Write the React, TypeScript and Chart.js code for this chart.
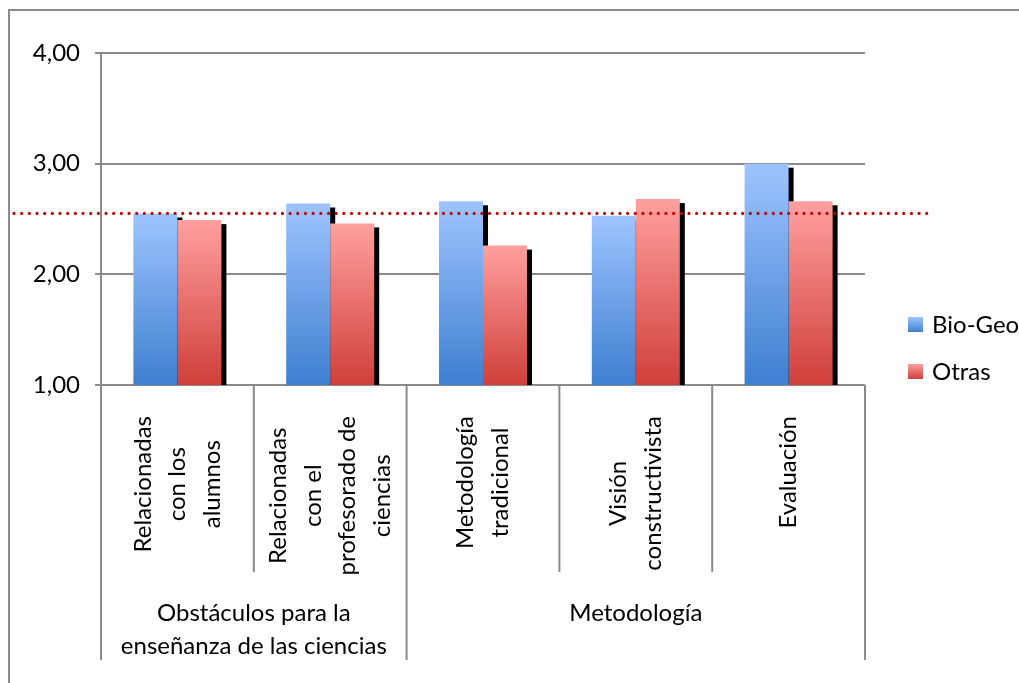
import React, { useEffect, useRef } from "react";
import { Chart, registerables } from "chart.js";

Chart.register(...registerables);

const categoryLines: string[][] = [
  ["Relacionadas", "con los", "alumnos"],
  ["Relacionadas", "con el", "profesorado de", "ciencias"],
  ["Metodología", "tradicional"],
  ["Visión", "constructivista"],
  ["Evaluación"],
];
const groupLines: string[][] = [
  ["Obstáculos para la", "enseñanza de las ciencias"],
  ["Metodología"],
];
const groupSpans = [2, 3];
const seriesNames = ["Bio-Geo", "Otras"];
const bioGeo = [2.55, 2.64, 2.66, 2.53, 3.0];
const otras = [2.49, 2.46, 2.26, 2.68, 2.66];
const referenceValue = 2.55;
const yMin = 1;
const yMax = 4;
const yStep = 1;

const FONT = "Lato, 'Noto Sans', sans-serif";
const GRAY = "#8a8a8a";
const blueStops = ["#9ec4ff", "#3e7fd0"];
const redStops = ["#ffa09e", "#cf3f3a"];

function barGradient(ctx: any, stops: string[]) {
  const chart = ctx.chart;
  const { chartArea, scales } = chart;
  if (!chartArea || !scales.y || ctx.raw === undefined) return stops[1];
  const top = scales.y.getPixelForValue(ctx.raw);
  const bottom = scales.y.getPixelForValue(yMin);
  const g = chart.ctx.createLinearGradient(0, top, 0, bottom);
  g.addColorStop(0, stops[0]);
  g.addColorStop(1, stops[1]);
  return g;
}

const decorPlugin = {
  id: "decor",
  beforeDraw(chart: any) {
    const ctx = chart.ctx;
    ctx.save();
    ctx.fillStyle = "#ffffff";
    ctx.fillRect(0, 0, chart.width, chart.height);
    ctx.strokeStyle = GRAY;
    ctx.lineWidth = 2;
    ctx.beginPath();
    ctx.moveTo(9, chart.height + 2);
    ctx.lineTo(9, 10);
    ctx.lineTo(chart.width + 2, 10);
    ctx.stroke();
    ctx.restore();
  },
  beforeDatasetsDraw(chart: any) {
    const ctx = chart.ctx;
    const area = chart.chartArea;
    ctx.save();
    ctx.beginPath();
    ctx.rect(area.left, area.top, area.right - area.left, area.bottom - area.top);
    ctx.clip();
    ctx.fillStyle = "#000000";
    chart.getSortedVisibleDatasetMetas().forEach((meta: any) => {
      meta.data.forEach((el: any) => {
        const p = el.getProps(["x", "y", "base", "width"], true);
        ctx.fillRect(p.x - p.width / 2 + 5, p.y + 4, p.width, p.base - p.y);
      });
    });
    ctx.restore();
  },
  afterDatasetsDraw(chart: any) {
    const ctx = chart.ctx;
    const area = chart.chartArea;
    const xs = chart.scales.x;
    const ys = chart.scales.y;
    const n = categoryLines.length;
    const catW = (area.right - area.left) / n;
    const innerBottom = area.bottom + 187;
    const groupBottom = area.bottom + 275;

    // reference dotted line
    const ry = ys.getPixelForValue(referenceValue);
    ctx.save();
    ctx.strokeStyle = "#c00000";
    ctx.lineWidth = 3.2;
    ctx.lineCap = "round";
    ctx.setLineDash([0, 7.67]);
    ctx.beginPath();
    ctx.moveTo(14, ry);
    ctx.lineTo(area.right + 62, ry);
    ctx.stroke();
    ctx.restore();

    // separators
    ctx.save();
    ctx.strokeStyle = GRAY;
    ctx.lineWidth = 2;
    const groupEdges = new Set<number>();
    let acc = 0;
    groupEdges.add(0);
    groupSpans.forEach((s) => {
      acc += s;
      groupEdges.add(acc);
    });
    for (let i = 0; i <= n; i++) {
      const x = xs.getPixelForValue(0) - catW / 2 + i * catW;
      ctx.beginPath();
      ctx.moveTo(x, area.bottom);
      ctx.lineTo(x, groupEdges.has(i) ? groupBottom : innerBottom);
      ctx.stroke();
    }
    ctx.restore();

    // category labels (rotated)
    ctx.save();
    ctx.font = `24px ${FONT}`;
    ctx.fillStyle = "#000";
    ctx.textAlign = "center";
    ctx.textBaseline = "middle";
    const lineH = 34.5;
    categoryLines.forEach((lines, i) => {
      const cx = xs.getPixelForValue(i);
      const maxW = Math.max(...lines.map((l) => ctx.measureText(l).width));
      const cy = area.bottom + 31 + maxW / 2;
      ctx.save();
      ctx.translate(cx, cy);
      ctx.rotate(-Math.PI / 2);
      lines.forEach((l, j) => {
        ctx.fillText(l, 0, (j - (lines.length - 1) / 2) * lineH);
      });
      ctx.restore();
    });

    // group labels
    let start = 0;
    groupLines.forEach((lines, g) => {
      const span = groupSpans[g];
      const left = xs.getPixelForValue(start) - catW / 2;
      const gx = left + (span * catW) / 2;
      lines.forEach((l, j) => {
        ctx.fillText(l, gx, area.bottom + 228 + j * 33);
      });
      start += span;
    });

    // legend
    const legendStops = [blueStops, redStops];
    ctx.textAlign = "left";
    seriesNames.forEach((name, k) => {
      const cyL = 324.5 + k * 47;
      const sx = area.right + 43;
      const g = ctx.createLinearGradient(0, cyL - 7.5, 0, cyL + 7.5);
      g.addColorStop(0, legendStops[k][0]);
      g.addColorStop(1, legendStops[k][1]);
      ctx.fillStyle = g;
      ctx.fillRect(sx, cyL - 7.5, 15, 15);
      ctx.fillStyle = "#000";
      ctx.fillText(name, sx + 24, cyL + 1);
    });
    ctx.restore();

    // y-axis extension downward
    ctx.save();
    ctx.strokeStyle = GRAY;
    ctx.lineWidth = 2;
    ctx.beginPath();
    ctx.moveTo(area.left, area.top);
    ctx.lineTo(area.left, groupBottom);
    ctx.stroke();
    ctx.restore();
  },
};

export default function App() {
  const ref = useRef<HTMLCanvasElement | null>(null);
  useEffect(() => {
    document.body.style.margin = "0";
    if (!ref.current) return;
    const chart = new Chart(ref.current, {
      type: "bar",
      data: {
        labels: categoryLines.map((l) => l.join(" ")),
        datasets: [
          {
            label: seriesNames[0],
            data: bioGeo,
            backgroundColor: (c: any) => barGradient(c, blueStops),
            borderWidth: 0,
          },
          {
            label: seriesNames[1],
            data: otras,
            backgroundColor: (c: any) => barGradient(c, redStops),
            borderWidth: 0,
          },
        ],
      },
      options: {
        responsive: false,
        animation: false,
        events: [],
        layout: { padding: { left: 0, top: 53, right: 154, bottom: 298 } },
        datasets: { bar: { categoryPercentage: 0.576, barPercentage: 1 } },
        plugins: {
          legend: { display: false },
          tooltip: { enabled: false },
          title: { display: false },
        },
        scales: {
          x: { display: false },
          y: {
            min: yMin,
            max: yMax,
            afterFit: (s: any) => {
              s.width = 101;
            },
            ticks: {
              stepSize: yStep,
              padding: 15,
              color: "#000",
              font: { family: FONT, size: 24 },
              callback: (v: any) => Number(v).toFixed(2).replace(".", ","),
            },
            grid: { color: GRAY, lineWidth: 2, tickLength: 6, drawTicks: true },
            border: { display: true, color: GRAY, width: 2 },
          },
        },
      },
      plugins: [decorPlugin],
    });
    return () => chart.destroy();
  }, []);
  return (
    <div style={{ width: 1019, height: 683 }}>
      <canvas ref={ref} width={1019} height={683} style={{ display: "block" }} />
    </div>
  );
}
